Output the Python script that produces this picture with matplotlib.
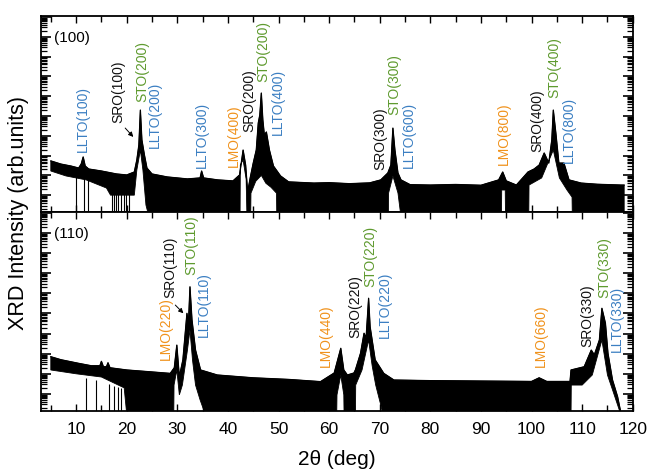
import numpy as np
import matplotlib
matplotlib.use("Agg")
import matplotlib.pyplot as plt
from matplotlib.ticker import LogLocator, NullFormatter, MultipleLocator

plt.rcParams['font.family'] = ['Liberation Sans', 'DejaVu Sans']

# ---------------- data (log10 intensity) ----------------
# (100) pattern: upper edge of the noisy trace
top_x = [5.0, 7, 9, 10.5, 11.0, 11.4, 11.8, 12.5, 15, 18, 20, 21.5, 22.0, 22.4, 22.7, 23.0,
         23.5, 24.0, 25, 28, 32, 34.5, 34.8, 35.2, 38, 41, 42.3, 43.0, 43.5, 43.9, 44.4, 45.0,
         45.6, 46.0, 46.3, 46.6, 46.9, 47.2, 47.6, 48.2, 49.0, 50.4, 52, 57, 60, 64, 68, 70.2,
         71.6, 72.2, 72.6, 73.0, 73.6, 74.2, 76, 80, 85, 90, 93.5, 94.3, 95.0, 97, 99.3, 100.5,
         101.5, 102.5, 103.4, 104.0, 104.3, 104.8, 105.4, 106.4, 107.4, 109.8, 113, 117.7, 118.3]
top_upper = [1.73, 1.57, 1.47, 1.37, 1.57, 1.93, 1.47, 1.32, 1.22, 1.07, 1.02, 1.17, 1.78, 2.53,
             4.30, 2.79, 2.03, 1.37, 1.07, 0.92, 0.82, 0.87, 1.22, 0.87, 0.77, 0.72, 1.02, 2.28,
             1.52, 0.16, 0.87, 1.62, 2.28, 3.65, 4.05, 5.16, 3.80, 3.04, 3.19, 2.28, 1.47, 0.97,
             0.67, 0.61, 0.63, 0.58, 0.62, 0.77, 1.12, 1.52, 3.39, 2.28, 1.12, 0.77, 0.53, 0.51,
             0.54, 0.50, 0.77, 1.17, 0.72, 0.51, 1.17, 1.32, 1.52, 2.13, 1.62, 2.79, 4.30, 3.14,
             1.62, 1.62, 0.77, 0.61, 0.55, 0.51, 0.51]
# (100) pattern: lower edge of the noisy trace (-1 = counts drop to zero)
top_lo_x = [5.0, 8, 12, 16, 16.8, 21.5, 22.0, 22.7, 23.2, 23.8, 24.3, 42.4, 42.45, 43.0, 43.6,
            43.75, 44.5, 44.55, 45.5, 46.6, 47.5, 48.5, 49.6, 49.65, 71.7, 71.75, 72.6, 73.6,
            74.15, 94.05, 94.1, 94.8, 94.85, 99.45, 99.5, 102, 104.3, 105.5, 107, 108.0, 108.05,
            118.3]
top_lower = [1.22, 0.97, 0.77, 0.36, 0.0, 0.0, 1.27, 2.28, 1.27, -0.5, -1, -1, 1.52, 1.78, 0.8,
             -1, -1, 0.1, 0.7, 1.0, 0.6, 0.4, 0.1, -1, -1, 0.11, 0.97, 0.11, -1, -1, 0.26, 0.26,
             -1, -1, 0.51, 0.87, 2.28, 0.87, 0.26, -0.1, -1, -1]
top_drop_x = [9.9, 11.6, 12.3, 17.0, 17.4, 17.9, 18.3, 18.8, 19.4, 19.9, 20.5, 35.0]
top_drop_y = [1.0, 0.9, 0.9, 0.1, 0.1, 0.1, 0.1, 0.1, 0.1, 0.1, 0.1, 0.5]

# (110) pattern
bot_x = [5.0, 7, 10.5, 13, 14.7, 15.0, 15.4, 16.0, 16.3, 16.7, 20, 24.6, 28.6, 29.4, 29.9, 30.4,
         31.1, 31.9, 32.2, 32.5, 32.9, 33.6, 34.6, 37.9, 45, 52, 58.3, 61.0, 62.3, 62.9, 63.6,
         64.9, 65.2, 66.2, 66.9, 67.3, 67.8, 68.1, 68.5, 69.1, 70.8, 72.8, 80, 90, 100, 101.5,
         103, 107.6, 107.8, 110.4, 111.8, 112.4, 113.4, 113.9, 114.3, 114.6, 115.1, 116.0, 117.0,
         117.7]
bot_upper = [1.85, 1.70, 1.52, 1.40, 1.40, 1.62, 1.35, 1.35, 1.55, 1.30, 1.19, 1.10, 1.02, 1.30,
             2.43, 0.86, 1.69, 4.01, 3.51, 5.33, 3.68, 2.18, 1.19, 0.94, 0.80, 0.72, 0.61, 1.04,
             2.27, 1.19, 0.94, 1.04, 1.20, 2.02, 3.02, 2.78, 4.76, 3.34, 2.68, 1.69, 1.02, 0.69,
             0.66, 0.64, 0.62, 0.80, 0.62, 0.62, 1.19, 1.35, 2.18, 1.94, 2.68, 4.26, 3.84, 3.51,
             2.02, 0.69, -0.14, -1]
bot_lo_x = [5.0, 10, 15, 19.5, 20.0, 29.3, 29.35, 29.9, 30.4, 31.0, 32.0, 32.5, 33.0, 33.6, 34.5,
            35.5, 61.5, 61.55, 62.3, 62.9, 62.95, 65.2, 65.25, 66.5, 67.8, 68.5, 69.2, 70.2, 70.6,
            107.8, 107.85, 110, 112, 113.9, 115, 116, 117, 117.6]
bot_lower = [1.19, 1.0, 0.84, 0.3, -1, -1, 0.44, 1.19, -0.05, 0.44, 2.18, 3.18, 1.69, 0.44,
             -0.30, -1, -1, -0.05, 0.94, -0.05, -1, -1, 0.44, 1.19, 2.68, 1.4, 0.44, -0.55, -1,
             -1, 0.44, 0.44, 0.94, 2.68, 0.94, 0.2, -0.55, -1]
bot_drop_x = [12.0, 14.0, 16.5, 17.5, 18.2, 18.9]
bot_drop_y = [0.8, 0.7, 0.5, 0.4, 0.35, 0.3]

# peak labels: (text, x, log10 y of text start, colour key)
top_labels = [("LLTO(100)", 11.4, 2.18, "L"), ("SRO(100)", 18.3, 3.65, "S"),
              ("STO(200)", 23.0, 4.71, "T"), ("LLTO(200)", 25.6, 2.38, "L"),
              ("LLTO(300)", 34.9, 1.37, "L"), ("LMO(400)", 41.1, 1.42, "M"),
              ("SRO(200)", 44.3, 3.19, "S"), ("STO(200)", 47.0, 5.72, "T"),
              ("LLTO(400)", 49.8, 3.04, "L"), ("SRO(300)", 70.2, 1.27, "S"),
              ("STO(300)", 72.8, 4.05, "T"), ("LLTO(600)", 75.7, 1.37, "L"),
              ("LMO(800)", 94.6, 1.52, "M"), ("SRO(400)", 101.1, 2.18, "S"),
              ("STO(400)", 104.5, 4.91, "T"), ("LLTO(800)", 107.4, 1.62, "L")]
bot_labels = [("LMO(220)", 27.7, 1.69, "M"), ("SRO(110)", 28.6, 4.77, "S"),
              ("STO(110)", 32.7, 5.92, "T"), ("LLTO(110)", 35.3, 2.85, "L"),
              ("LMO(440)", 59.3, 1.35, "M"), ("SRO(220)", 65.2, 2.77, "S"),
              ("STO(220)", 68.2, 5.33, "T"), ("LLTO(220)", 71.0, 2.77, "L"),
              ("LMO(660)", 101.9, 1.35, "M"), ("SRO(330)", 111.1, 2.35, "S"),
              ("STO(330)", 114.3, 4.76, "T"), ("LLTO(330)", 116.9, 2.10, "L")]
top_arrow = ((19.7, 3.39), (21.3, 2.94))
bot_arrow = ((29.6, 4.42), (31.2, 4.01))
panel_names = ["(100)", "(110)"]
x_ticks = [10, 20, 30, 40, 50, 60, 70, 80, 90, 100, 110, 120]

colors = {"L": "#3b7fc2", "S": "#111111", "T": "#5e9a2e", "M": "#f0921c"}

# ---------------- figure ----------------
fig = plt.figure(figsize=(6.51, 4.69), dpi=100)
L, R = 0.0625, 0.972
ax1 = fig.add_axes([L, 0.548, R - L, 0.9659 - 0.548])
ax2 = fig.add_axes([L, 0.1237, R - L, 0.548 - 0.1237])

YMIN, YMAX = 10 ** -0.85, 10 ** 9.05

panels = [
    (ax1, top_x, top_upper, top_lo_x, top_lower, top_drop_x, top_drop_y, top_labels, top_arrow),
    (ax2, bot_x, bot_upper, bot_lo_x, bot_lower, bot_drop_x, bot_drop_y, bot_labels, bot_arrow),
]

for i, (ax, ux, uy, lx, ly, dx, dy, labels, arrow) in enumerate(panels):
    ux = np.asarray(ux, float); uy = np.asarray(uy, float)
    lx = np.asarray(lx, float); ly = np.asarray(ly, float)
    px = np.concatenate([ux, lx[::-1]])
    py = np.concatenate([10 ** uy, 10 ** ly[::-1]])
    ax.fill(px, py, color="black", lw=0.6, edgecolor="black")
    ax.plot(ux, 10 ** uy, color="black", lw=0.9)
    ax.vlines(dx, 10 ** -1.0, 10 ** np.asarray(dy), color="black", lw=0.8)
    ax.set_yscale("log")
    ax.set_ylim(YMIN, YMAX)
    ax.set_xlim(3, 120)
    ax.yaxis.set_major_locator(LogLocator(base=10, numticks=100))
    ax.yaxis.set_minor_locator(LogLocator(base=10, subs=np.arange(2, 10), numticks=100))
    ax.yaxis.set_major_formatter(NullFormatter())
    ax.yaxis.set_minor_formatter(NullFormatter())
    ax.xaxis.set_major_locator(MultipleLocator(10))
    ax.xaxis.set_minor_locator(MultipleLocator(5))
    ax.tick_params(axis="both", which="both", direction="in", top=True, right=True)
    ax.tick_params(axis="y", which="major", length=7, width=1.2)
    ax.tick_params(axis="y", which="minor", length=4, width=0.9)
    ax.tick_params(axis="x", which="major", length=5, width=1.0)
    ax.tick_params(axis="x", which="minor", length=4, width=1.0)
    for s in ax.spines.values():
        s.set_linewidth(1.3)
    for txt, x, y, c in labels:
        ax.text(x, 10 ** y, txt, rotation=90, ha="center", va="bottom",
                color=colors[c], fontsize=10)
    (x0, y0), (x1, y1) = arrow
    ax.annotate("", xy=(x1, 10 ** y1), xytext=(x0, 10 ** y0),
                arrowprops=dict(arrowstyle="-|>", color="black", lw=0.7,
                                mutation_scale=7, shrinkA=0, shrinkB=0))
    ax.text(0.022, 0.89, panel_names[i], transform=ax.transAxes, fontsize=11,
            ha="left", va="center")

ax1.tick_params(axis="x", labelbottom=False)
ax2.set_xticks(x_ticks)
ax2.set_xticklabels([str(t) for t in x_ticks])
ax2.tick_params(axis="x", labelsize=12.5, pad=8)
ax2.set_xlabel("2θ (deg)", fontsize=15, labelpad=9)
fig.text(0.028, 0.545, "XRD Intensity (arb.units)", rotation=90, ha="center",
         va="center", fontsize=15.5)

fig.savefig("out.png", dpi=100)
